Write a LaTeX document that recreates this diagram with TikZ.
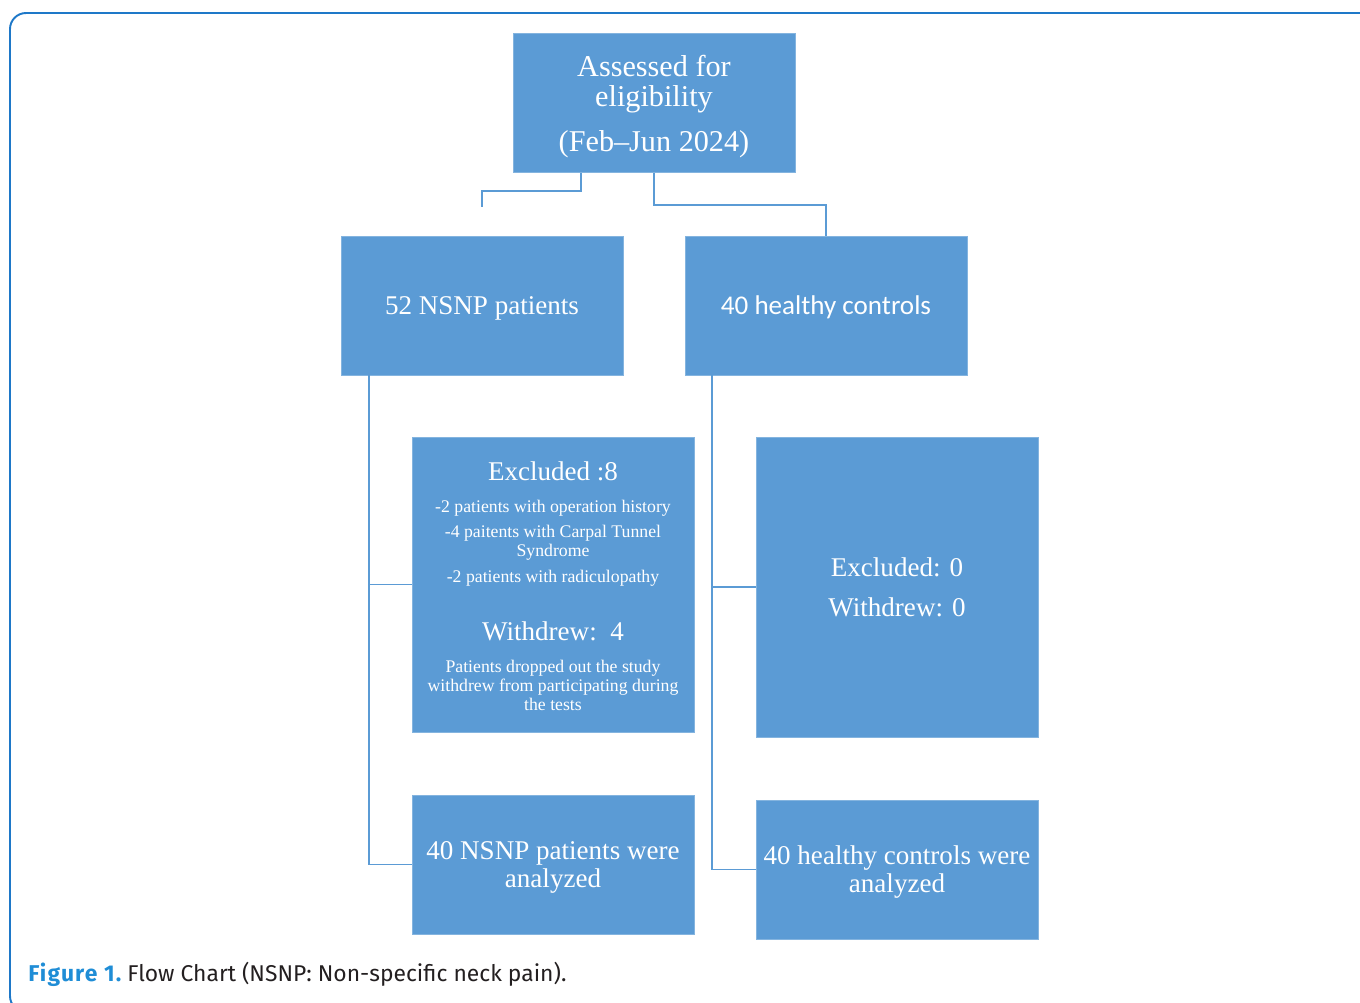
\documentclass[tikz,border=0pt]{standalone}
\usepackage{fontspec}
\setmainfont{Liberation Serif}
\newfontfamily\calibrifont{Carlito}
\newfontfamily\captionfont{Fira Sans}
\definecolor{boxblue}{HTML}{5B9BD5}
\definecolor{frameblue}{HTML}{1E78C8}
\definecolor{figblue}{HTML}{1F8DD6}
\definecolor{captext}{HTML}{231F20}
\lineskiplimit=-100pt

\begin{document}
\begin{tikzpicture}[x=0.02cm, y=-0.02cm,
  box/.style={fill=boxblue, draw=boxblue!75!white, line width=0.4pt, text=white, inner sep=0pt, align=center,
    minimum width=5.64cm, minimum height=2.78cm, text depth=0pt},
  link/.style={draw=boxblue, line width=1.1pt}]
\useasboundingbox (0,0) rectangle (1360,1002);
\draw[frameblue, line width=1.1pt, rounded corners=0.32cm] (1376,1012)--(10,1012)--(10,13)--(1376,13)--cycle;

\node[box, font=\fontsize{17.2}{17.6}\selectfont] (assess) at (654,103) {Assessed for\\eligibility\\[7.6pt](Feb--Jun 2024)};
\node[box, font=\fontsize{15.4}{16}\selectfont] (nsnp) at (482,305.5) {52 NSNP patients};
\node[box, font=\calibrifont\fontsize{15.4}{16}\selectfont] (healthy) at (826,305.5) {40 healthy controls};

\node[box, minimum height=5.9cm, font=\fontsize{10.1}{10.8}\selectfont] (exclA) at (553,584.5) {{\fontsize{15.4}{16}\selectfont\raisebox{-1.7pt}[\height][\depth]{Excluded :8}}\\[9pt]
-2 patients with operation history\\[3.4pt]
-4 paitents with Carpal Tunnel\\
Syndrome\\[4pt]
-2 patients with radiculopathy\\[20.5pt]
{\fontsize{15.4}{16}\selectfont\raisebox{-1.7pt}[\height][\depth]{Withdrew:\ \ 4}}\\[9pt]
Patients dropped out the study\\
withdrew from participating during\\
the tests};
\node[box, minimum height=6cm, font=\fontsize{15.4}{22.8}\selectfont] (exclB) at (897,587) {Excluded: 0\\Withdrew: 0};

\node[box, font=\fontsize{15.4}{15.9}\selectfont] (nsnpDone) at (553,864.5) {40 NSNP patients were\\analyzed};
\node[box, font=\fontsize{15.4}{15.9}\selectfont] (healthyDone) at (897,869.5) {40 healthy controls were\\analyzed};

\coordinate (stub) at (482,207);
\draw[link] (assess.south -| 581,0) -- ++(0,18) -| (stub);
\draw[link] (assess.south -| 654,0) -- ++(0,32) -| (healthy.north);
\draw[link] (nsnp.south -| 369,0) |- (exclA.west);
\draw[link] (nsnp.south -| 369,0) |- (nsnpDone.west);
\draw[link] (healthy.south -| 712,0) |- (exclB.west);
\draw[link] (healthy.south -| 712,0) |- (healthyDone.west);

\node[anchor=west, inner sep=0pt, text=captext, font=\captionfont\fontsize{13}{15}\selectfont] (caption) at (28,974)
  {\textcolor{figblue}{\bfseries\addfontfeatures{LetterSpace=5}Figure 1.}\ Flow Chart (NSNP: Non-specific neck pain).};
\end{tikzpicture}
\end{document}
